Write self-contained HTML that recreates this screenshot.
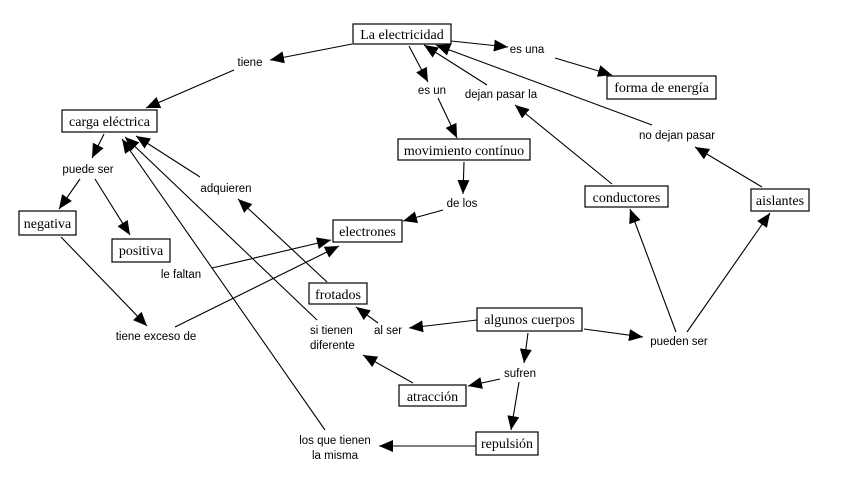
<!DOCTYPE html>
<html><head><meta charset="utf-8"><style>
body{margin:0;background:#fff;}
svg{display:block;}
.b{fill:#fff;stroke:#000;stroke-width:1.2;}
.t{font-family:"Liberation Serif",serif;font-size:14px;fill:#000;}
.l{font-family:"Liberation Sans",sans-serif;font-size:11.5px;fill:#000;}
line{stroke:#000;stroke-width:1.1;marker-end:url(#a);}
</style></head><body>
<svg width="849" height="502" viewBox="0 0 849 502" xmlns="http://www.w3.org/2000/svg">
<defs><marker id="a" markerUnits="userSpaceOnUse" markerWidth="16" markerHeight="14" refX="14" refY="6" orient="auto"><path d="M0,0 L14,6 L0,12 z" fill="#000"/></marker></defs>
<line x1="352" y1="44" x2="270" y2="60"/>
<line x1="234" y1="70" x2="146" y2="108"/>
<line x1="451" y1="41" x2="508" y2="47"/>
<line x1="555" y1="58" x2="612" y2="75"/>
<line x1="409" y1="46" x2="428" y2="82"/>
<line x1="438" y1="98" x2="457" y2="138"/>
<line x1="487" y1="85" x2="424" y2="45"/>
<line x1="652" y1="125" x2="436" y2="45"/>
<line x1="612" y1="184" x2="515" y2="105"/>
<line x1="762" y1="187" x2="695" y2="147"/>
<line x1="464" y1="162" x2="463" y2="194"/>
<line x1="443" y1="210" x2="403" y2="221"/>
<line x1="104" y1="134" x2="92" y2="158"/>
<line x1="80" y1="179" x2="59" y2="209"/>
<line x1="95" y1="179" x2="130" y2="235"/>
<line x1="61" y1="237" x2="147" y2="326"/>
<line x1="175" y1="327" x2="339" y2="246"/>
<line x1="212" y1="268" x2="331" y2="240"/>
<line x1="327" y1="282" x2="238" y2="199"/>
<line x1="200" y1="177" x2="136" y2="136"/>
<line x1="317" y1="320" x2="125" y2="137"/>
<line x1="325" y1="430" x2="122" y2="139"/>
<line x1="477" y1="320" x2="409" y2="328"/>
<line x1="378" y1="323" x2="356" y2="307"/>
<line x1="413" y1="383" x2="363" y2="355"/>
<line x1="584" y1="329" x2="643" y2="337"/>
<line x1="676" y1="332" x2="630" y2="209"/>
<line x1="687" y1="332" x2="770" y2="213"/>
<line x1="528" y1="333" x2="524" y2="363"/>
<line x1="500" y1="379" x2="468" y2="386"/>
<line x1="519" y1="382" x2="511" y2="430"/>
<line x1="476" y1="446" x2="379" y2="446"/>

<rect class="b" x="353" y="24" width="98" height="20"/><text class="t" x="402" y="39" text-anchor="middle">La electricidad</text>
<rect class="b" x="607" y="76" width="109" height="23"/><text class="t" x="661.5" y="92" text-anchor="middle">forma de energía</text>
<rect class="b" x="62" y="110" width="95" height="22"/><text class="t" x="109.5" y="126" text-anchor="middle">carga eléctrica</text>
<rect class="b" x="398" y="139" width="132" height="21"/><text class="t" x="464" y="155" text-anchor="middle">movimiento contínuo</text>
<rect class="b" x="585" y="186" width="83" height="21"/><text class="t" x="626.5" y="202" text-anchor="middle">conductores</text>
<rect class="b" x="751" y="189" width="58" height="22"/><text class="t" x="780" y="205" text-anchor="middle">aislantes</text>
<rect class="b" x="19" y="211" width="57" height="24"/><text class="t" x="47.5" y="228" text-anchor="middle">negativa</text>
<rect class="b" x="112" y="239" width="58" height="23"/><text class="t" x="141" y="255" text-anchor="middle">positiva</text>
<rect class="b" x="333" y="220" width="69" height="22"/><text class="t" x="367.5" y="236" text-anchor="middle">electrones</text>
<rect class="b" x="309" y="283" width="58" height="21"/><text class="t" x="338" y="299" text-anchor="middle">frotados</text>
<rect class="b" x="477" y="308" width="105" height="23"/><text class="t" x="529.5" y="324" text-anchor="middle">algunos cuerpos</text>
<rect class="b" x="399" y="385" width="67" height="21"/><text class="t" x="432.5" y="401" text-anchor="middle">atracción</text>
<rect class="b" x="476" y="432" width="62" height="23"/><text class="t" x="507" y="448" text-anchor="middle">repulsión</text>

<text class="l" x="250" y="66" text-anchor="middle">tiene</text>
<text class="l" x="527" y="53" text-anchor="middle">es una</text>
<text class="l" x="432" y="94" text-anchor="middle">es un</text>
<text class="l" x="501" y="98" text-anchor="middle">dejan pasar la</text>
<text class="l" x="677" y="139" text-anchor="middle">no dejan pasar</text>
<text class="l" x="88" y="173" text-anchor="middle">puede ser</text>
<text class="l" x="226" y="192" text-anchor="middle">adquieren</text>
<text class="l" x="462" y="207" text-anchor="middle">de los</text>
<text class="l" x="181" y="278" text-anchor="middle">le faltan</text>
<text class="l" x="156" y="340" text-anchor="middle">tiene exceso de</text>
<text class="l" x="310" y="334">si tienen</text>
<text class="l" x="310" y="349">diferente</text>
<text class="l" x="388" y="334" text-anchor="middle">al ser</text>
<text class="l" x="679" y="345" text-anchor="middle">pueden ser</text>
<text class="l" x="520" y="377" text-anchor="middle">sufren</text>
<text class="l" x="335" y="444" text-anchor="middle">los que tienen</text>
<text class="l" x="335" y="459" text-anchor="middle">la misma</text>
</svg>
</body></html>
